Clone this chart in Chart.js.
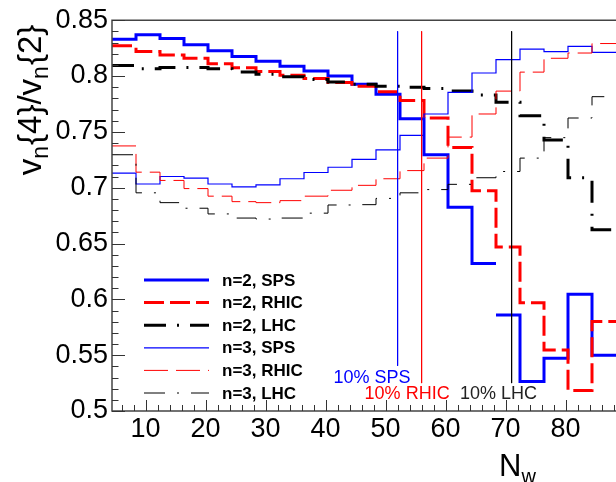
<!DOCTYPE html>
<html>
<head>
<meta charset="utf-8">
<script src="https://cdn.jsdelivr.net/npm/chart.js@4.4.1/dist/chart.umd.min.js"></script>
<style>
  html, body { margin: 0; padding: 0; background: #fff; }
  canvas { display: block; }
</style>
</head>
<body>
<canvas id="chart" width="616" height="482"></canvas>
<script>
// histogram bin edges in N_w (width 4)
const BIN_EDGES = [4.4, 8.4, 12.4, 16.4, 20.4, 24.4, 28.4, 32.4, 36.4, 40.4, 44.4,
  48.4, 52.4, 56.4, 60.4, 64.4, 68.4, 72.4, 76.4, 80.4, 84.4, 88.4];

const SPS_N2 = [0.833, 0.837, 0.8335, 0.828, 0.8227, 0.8174, 0.8132, 0.8088, 0.8044, 0.800, 0.7927,
  0.7836, 0.7618, 0.7295, 0.6825, 0.6322, 0.586, 0.5264, 0.5473, 0.6046, 0.550];
const RHIC_N2 = [0.8271, 0.822, 0.8189, 0.8159, 0.8109, 0.8074, 0.8041, 0.8006, 0.7977, 0.7942, 0.7909,
  0.7859, 0.778, 0.7624, 0.736, 0.6972, 0.6469, 0.5969, 0.5546, 0.5184, 0.5802];
const LHC_N2 = [0.8094, 0.8065, 0.8077, 0.8077, 0.8065, 0.8035, 0.8015, 0.7994, 0.797, 0.7947, 0.7927,
  0.7909, 0.79, 0.7888, 0.7865, 0.783, 0.7765, 0.7645, 0.7427, 0.7089, 0.6624];
const SPS_N3 = [0.713, 0.7033, 0.71, 0.7086, 0.7033, 0.7007, 0.7025, 0.708, 0.7136, 0.7183, 0.7254,
  0.7339, 0.7468, 0.766, 0.7854, 0.8027, 0.8147, 0.8241, 0.8218, 0.8265, 0.8212];
const RHIC_N3 = [0.7374, 0.7139, 0.7065, 0.6992, 0.6924, 0.6875, 0.6866, 0.6884, 0.6924, 0.6977, 0.7021,
  0.708, 0.7153, 0.7265, 0.7453, 0.766, 0.7865, 0.8035, 0.8159, 0.8206, 0.8291];
const LHC_N3 = [0.7295, 0.6954, 0.6866, 0.6816, 0.6765, 0.6728, 0.6719, 0.6728, 0.6772, 0.6845, 0.6848,
  0.6904, 0.6954, 0.6983, 0.703, 0.7089, 0.7145, 0.7265, 0.7448, 0.7624, 0.7815];

// SPS n=2 histogram is broken after this bin (empty vertical)
const SPS_N2_BREAK_AFTER = 15;

// 10% centrality cuts
const CUT_LABELS = ['10% SPS', '10% RHIC', '10% LHC'];
const CUT_NW = [52, 56, 71];
const CUT_TOP = 0.84;
const CUT_BOTTOM = [0.5405, 0.525, 0.525];

const X_TICKS = [10, 20, 30, 40, 50, 60, 70, 80];
const Y_TICKS = [0.5, 0.55, 0.6, 0.65, 0.7, 0.75, 0.8, 0.85];
const Y_TICK_LABELS = ['0.5', '0.55', '0.6', '0.65', '0.7', '0.75', '0.8', '0.85'];

const FONT = '"Liberation Sans", Arial, Helvetica, sans-serif';
const BLUE = '#0000ff';
const RED = '#ff0000';
const BLACK = '#000000';

// one point per bin at its left edge, plus the closing right edge
function histPoints(values, breakAfter) {
  const pts = [];
  values.forEach((v, i) => {
    pts.push({ x: BIN_EDGES[i], y: v });
    if (i === breakAfter) {
      pts.push({ x: BIN_EDGES[i + 1], y: v });
      pts.push({ x: BIN_EDGES[i + 1], y: null });
    }
  });
  pts.push({ x: BIN_EDGES[values.length], y: values[values.length - 1] });
  return pts;
}

function hist(label, values, color, width, dash, breakAfter) {
  return {
    label,
    data: histPoints(values, breakAfter),
    borderColor: color,
    borderWidth: width,
    borderDash: dash,
    stepped: 'before',
    pointRadius: 0,
    fill: false,
    spanGaps: false,
  };
}

function cutLine(i, color) {
  return {
    label: CUT_LABELS[i],
    data: [{ x: CUT_NW[i], y: CUT_TOP }, { x: CUT_NW[i], y: CUT_BOTTOM[i] }],
    borderColor: color,
    borderWidth: 1,
    pointRadius: 0,
    fill: false,
  };
}

const datasets = [
  cutLine(0, BLUE),
  cutLine(1, RED),
  cutLine(2, BLACK),
  hist('n=3, LHC', LHC_N3, BLACK, 1, [21, 12, 2, 12]),
  hist('n=3, RHIC', RHIC_N3, RED, 1, [24, 8]),
  hist('n=3, SPS', SPS_N3, BLUE, 1.2, []),
  hist('n=2, LHC', LHC_N2, BLACK, 3, [22, 11, 2, 11]),
  hist('n=2, RHIC', RHIC_N2, RED, 3, [20, 6]),
  hist('n=2, SPS', SPS_N2, BLUE, 3, [], SPS_N2_BREAK_AFTER),
];

const LEGEND_ORDER = ['n=2, SPS', 'n=2, RHIC', 'n=2, LHC', 'n=3, SPS', 'n=3, RHIC', 'n=3, LHC'];

const decorPlugin = {
  id: 'decor',
  afterDraw(chart) {
    const { ctx, chartArea: a, scales: { x, y } } = chart;
    ctx.save();

    // frame
    ctx.strokeStyle = '#444';
    ctx.lineWidth = 1.5;
    ctx.beginPath();
    ctx.moveTo(a.right, a.top);
    ctx.lineTo(a.left, a.top);
    ctx.lineTo(a.left, a.bottom);
    ctx.lineTo(a.right, a.bottom);
    ctx.stroke();

    // inward ticks
    ctx.strokeStyle = '#333';
    ctx.lineWidth = 1;
    ctx.beginPath();
    for (let v = 6; v <= x.max; v += 2) {
      const px = Math.round(x.getPixelForValue(v)) + 0.5;
      const len = v % 10 === 0 ? 11 : 6;
      ctx.moveTo(px, a.bottom);
      ctx.lineTo(px, a.bottom - len);
    }
    for (let i = 0; i <= 35; i++) {
      const py = Math.round(y.getPixelForValue(0.5 + i * 0.01)) + 0.5;
      const len = i % 5 === 0 ? 13 : 6.5;
      ctx.moveTo(a.left, py);
      ctx.lineTo(a.left + len, py);
    }
    ctx.stroke();

    // cut labels
    ctx.font = '18px ' + FONT;
    ctx.textBaseline = 'middle';
    ctx.textAlign = 'left';
    const labelPos = [[41.3, 0.5296, BLUE], [46.5, 0.5155, RED], [62.4, 0.5155, '#222']];
    CUT_LABELS.forEach((t, i) => {
      ctx.fillStyle = labelPos[i][2];
      ctx.fillText(t, x.getPixelForValue(labelPos[i][0]), y.getPixelForValue(labelPos[i][1]));
    });

    // legend
    ctx.font = 'bold 17px ' + FONT;
    LEGEND_ORDER.forEach((name, i) => {
      const ds = chart.data.datasets.find(d => d.label === name);
      const ry = 280 + i * 22.6;
      ctx.strokeStyle = ds.borderColor;
      ctx.lineWidth = ds.borderWidth;
      ctx.setLineDash(ds.borderDash || []);
      ctx.beginPath();
      ctx.moveTo(144, ry);
      ctx.lineTo(209, ry);
      ctx.stroke();
      ctx.setLineDash([]);
      ctx.fillStyle = '#000';
      ctx.fillText(name, 222, ry + 1);
    });

    // y title: v_n{4}/v_n{2}
    const size = 33;
    const parts = [['v', 0], ['n', 1], ['{4}/v', 0], ['n', 1], ['{2}', 0]];
    const fontFor = sub => (sub ? Math.round(size * 0.7) : size) + 'px ' + FONT;
    let total = 0;
    parts.forEach(([t, sub]) => { ctx.font = fontFor(sub); total += ctx.measureText(t).width + (sub ? 1 : 0); });
    ctx.translate(41, 100);
    ctx.rotate(-Math.PI / 2);
    ctx.textBaseline = 'alphabetic';
    ctx.fillStyle = '#000';
    let cx = -total / 2;
    parts.forEach(([t, sub]) => {
      ctx.font = fontFor(sub);
      ctx.fillText(t, cx, sub ? size * 0.22 : 0);
      cx += ctx.measureText(t).width + (sub ? 1 : 0);
    });
    ctx.setTransform(1, 0, 0, 1, 0, 0);

    // x title: N_w
    ctx.font = '31px ' + FONT;
    ctx.fillText('N', 499, 476);
    const nW = ctx.measureText('N').width;
    ctx.font = '20px ' + FONT;
    ctx.fillText('w', 499 + nW, 483);

    ctx.restore();
  }
};

new Chart(document.getElementById('chart'), {
  type: 'line',
  data: { datasets },
  options: {
    responsive: false,
    animation: false,
    devicePixelRatio: 1,
    layout: { padding: { top: 14, right: 0, left: 0, bottom: 0 } },
    plugins: { legend: { display: false }, tooltip: { enabled: false } },
    elements: { line: { tension: 0 } },
    scales: {
      x: {
        type: 'linear',
        min: 4.4,
        max: 88.4,
        afterBuildTicks: s => { s.ticks = X_TICKS.map(value => ({ value })); },
        afterFit: s => { s.height = 71; },
        grid: { display: false, drawTicks: false },
        border: { display: false },
        ticks: { font: { family: FONT, size: 27 }, color: '#000', padding: 2, maxRotation: 0, autoSkip: false,
          callback: v => String(v) },
      },
      y: {
        type: 'linear',
        min: 0.5,
        max: 0.85,
        afterBuildTicks: s => { s.ticks = Y_TICKS.map(value => ({ value })); },
        afterFit: s => { s.width = 112; },
        grid: { display: false, drawTicks: false },
        border: { display: false },
        ticks: { font: { family: FONT, size: 27 }, color: '#000', padding: 4, autoSkip: false,
          callback: v => Y_TICK_LABELS[Y_TICKS.findIndex(t => Math.abs(t - v) < 1e-6)] },
      },
    },
  },
  plugins: [decorPlugin],
});
</script>
</body>
</html>
